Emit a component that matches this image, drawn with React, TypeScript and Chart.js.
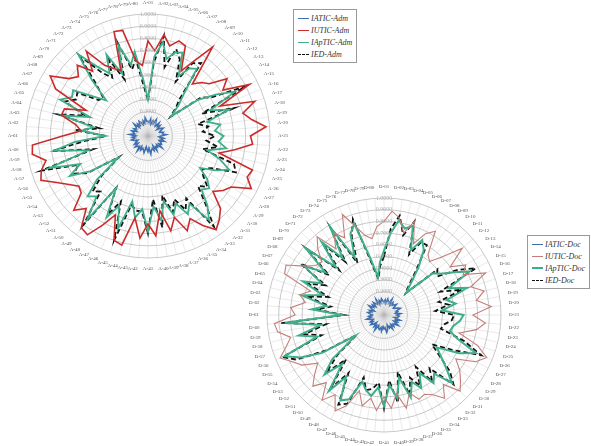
import React, { useEffect, useRef } from "react";
import { Chart, registerables } from "chart.js";

Chart.register(...registerables);

const ADM_LABELS: string[] = Array.from({ length: 80 }, (_, i) => `A-${String(i + 1).padStart(2, "0")}`);
const DOC_LABELS: string[] = Array.from({ length: 80 }, (_, i) => `D-${String(i + 1).padStart(2, "0")}`);

const IATIC_ADM = [0.12,0.11,0.14,0.10,0.13,0.11,0.15,0.12,0.10,0.14,0.11,0.13,0.09,0.12,0.14,0.11,0.10,0.13,0.12,0.15,0.11,0.09,0.13,0.11,0.14,0.10,0.12,0.13,0.11,0.15,0.10,0.12,0.11,0.14,0.09,0.13,0.11,0.12,0.15,0.10,0.13,0.11,0.09,0.14,0.12,0.11,0.13,0.10,0.15,0.11,0.12,0.14,0.10,0.13,0.11,0.09,0.12,0.14,0.11,0.13,0.10,0.15,0.11,0.12,0.14,0.10,0.13,0.11,0.12,0.15,0.10,0.13,0.11,0.14,0.12,0.10,0.13,0.11,0.15,0.12];
const IUTIC_ADM = [0.78,0.70,0.84,0.76,0.82,0.80,0.60,0.72,0.90,0.56,0.62,0.66,0.80,0.72,0.93,0.64,0.92,0.80,0.86,0.97,0.84,0.86,0.72,0.60,0.90,0.88,0.95,0.80,0.76,0.70,0.84,0.90,0.95,0.86,0.76,0.84,0.70,0.80,0.62,0.82,0.72,0.84,0.68,0.92,0.90,0.70,0.82,0.95,0.93,0.78,0.86,0.72,0.70,0.76,0.84,0.95,0.92,0.86,0.96,0.95,0.70,0.55,0.60,0.73,0.72,0.55,0.85,0.94,0.80,0.75,0.82,0.70,0.86,0.68,0.62,0.58,0.90,0.89,0.62,0.58];
const IAPTIC_ADM = [0.30,0.65,0.78,0.65,0.72,0.74,0.55,0.65,0.68,0.45,0.35,0.25,0.50,0.65,0.80,0.55,0.70,0.50,0.60,0.55,0.62,0.58,0.65,0.50,0.62,0.72,0.62,0.50,0.60,0.66,0.62,0.75,0.85,0.65,0.72,0.60,0.68,0.55,0.70,0.58,0.78,0.60,0.68,0.55,0.80,0.62,0.75,0.50,0.85,0.65,0.70,0.55,0.30,0.55,0.72,0.60,0.85,0.50,0.78,0.60,0.35,0.55,0.45,0.72,0.50,0.78,0.70,0.72,0.55,0.45,0.65,0.88,0.70,0.60,0.75,0.55,0.78,0.60,0.70,0.45];
const IED_ADM = [0.29,0.60,0.83,0.58,0.75,0.68,0.50,0.70,0.74,0.40,0.32,0.24,0.54,0.60,0.90,0.48,0.74,0.42,0.50,0.45,0.55,0.48,0.58,0.46,0.74,0.78,0.58,0.52,0.56,0.64,0.58,0.72,0.92,0.60,0.68,0.56,0.66,0.50,0.76,0.52,0.80,0.62,0.62,0.58,0.90,0.58,0.72,0.50,0.90,0.60,0.64,0.50,0.29,0.58,0.68,0.62,0.92,0.46,0.80,0.52,0.34,0.60,0.40,0.76,0.54,0.74,0.66,0.68,0.50,0.48,0.60,0.87,0.64,0.56,0.70,0.50,0.80,0.56,0.64,0.40];

const IATIC_DOC = [0.11,0.13,0.10,0.14,0.12,0.11,0.15,0.10,0.13,0.11,0.12,0.14,0.10,0.11,0.13,0.15,0.11,0.12,0.10,0.14,0.11,0.13,0.12,0.09,0.14,0.11,0.13,0.10,0.15,0.12,0.11,0.13,0.10,0.14,0.11,0.12,0.09,0.13,0.15,0.11,0.12,0.10,0.14,0.11,0.13,0.12,0.10,0.15,0.11,0.13,0.09,0.12,0.14,0.11,0.13,0.10,0.12,0.15,0.11,0.13,0.10,0.12,0.14,0.11,0.13,0.09,0.12,0.15,0.11,0.13,0.10,0.14,0.12,0.11,0.15,0.10,0.13,0.11,0.14,0.12];
const IUTIC_DOC = [0.80,0.89,0.84,0.72,0.84,0.66,0.78,0.84,0.64,0.60,0.70,0.88,0.70,0.82,0.76,0.94,0.78,0.88,0.80,0.92,0.76,0.87,0.80,0.66,0.84,0.95,0.88,0.72,0.80,0.86,0.92,0.78,0.88,0.80,0.76,0.78,0.70,0.82,0.68,0.80,0.70,0.82,0.72,0.80,0.68,0.84,0.92,0.80,0.90,0.76,0.86,0.78,0.70,0.82,0.88,0.96,0.88,0.82,0.92,0.94,0.76,0.80,0.68,0.74,0.66,0.92,0.94,0.80,0.72,0.70,0.80,0.88,0.70,0.82,0.74,0.93,0.80,0.70,0.66,0.76];
const IAPTIC_DOC = [0.55,0.70,0.82,0.76,0.80,0.60,0.72,0.65,0.50,0.35,0.27,0.55,0.60,0.70,0.82,0.60,0.75,0.55,0.62,0.50,0.68,0.65,0.60,0.58,0.66,0.85,0.72,0.53,0.60,0.70,0.82,0.66,0.72,0.58,0.70,0.62,0.74,0.55,0.72,0.60,0.78,0.62,0.70,0.66,0.60,0.78,0.82,0.62,0.80,0.55,0.72,0.58,0.30,0.62,0.80,0.92,0.60,0.75,0.55,0.85,0.36,0.62,0.50,0.72,0.55,0.75,0.60,0.80,0.62,0.88,0.58,0.82,0.60,0.88,0.55,0.75,0.82,0.50,0.33,0.45];
const IED_DOC = [0.50,0.74,0.86,0.70,0.84,0.56,0.70,0.70,0.46,0.32,0.26,0.60,0.56,0.74,0.88,0.52,0.70,0.48,0.56,0.44,0.60,0.58,0.52,0.50,0.72,0.90,0.66,0.48,0.58,0.74,0.84,0.60,0.70,0.52,0.68,0.58,0.72,0.50,0.76,0.56,0.80,0.58,0.64,0.66,0.56,0.82,0.86,0.58,0.78,0.50,0.70,0.52,0.29,0.58,0.84,0.94,0.56,0.70,0.50,0.88,0.34,0.58,0.46,0.68,0.50,0.70,0.56,0.84,0.58,0.88,0.54,0.80,0.56,0.88,0.50,0.72,0.86,0.46,0.31,0.42];

const R_TICKS_MIN = 0;
const R_TICKS_MAX = 1;
const R_TICKS_STEP = 0.1;

type Series = { label: string; data: number[]; color: string; width: number; dash?: number[] };

function RadarChart(props: { labels: string[]; series: Series[]; width: number; height: number }) {
  const ref = useRef<HTMLCanvasElement | null>(null);
  useEffect(() => {
    if (!ref.current) return;
    const chart = new Chart(ref.current, {
      type: "radar",
      data: {
        labels: props.labels,
        datasets: props.series.map((s) => ({
          label: s.label,
          data: s.data,
          borderColor: s.color,
          backgroundColor: "transparent",
          borderWidth: s.width,
          borderDash: s.dash || [],
          pointRadius: 0,
          fill: false,
          tension: 0,
        })),
      },
      options: {
        responsive: false,
        animation: false,
        plugins: { legend: { display: false }, tooltip: { enabled: false } },
        layout: { padding: 0 },
        scales: {
          r: {
            min: R_TICKS_MIN,
            max: R_TICKS_MAX,
            ticks: {
              stepSize: R_TICKS_STEP,
              showLabelBackdrop: false,
              color: "#b0b0b0",
              font: { size: 6, family: "Liberation Serif" },
              callback: (v: any) => Number(v).toFixed(4),
              z: 1,
            },
            pointLabels: {
              font: { size: 5, family: "Liberation Serif" },
              color: "#555",
              padding: 3,
            },
            grid: { circular: true, color: "#c8c8c8", lineWidth: 1 },
            angleLines: { color: "rgba(185,185,185,0.6)", lineWidth: 0.5 },
          },
        },
      },
    });
    return () => chart.destroy();
  }, []);
  return <canvas ref={ref} width={props.width} height={props.height} style={{ width: props.width, height: props.height, display: "block" }} />;
}

function Legend(props: { items: Series[] }) {
  return (
    <div style={{ border: "1px solid #999", padding: "2px 4px", background: "#fff", fontFamily: "Liberation Serif", fontStyle: "italic", fontSize: 8, color: "#333", whiteSpace: "nowrap" }}>
      {props.items.map((s) => (
        <div key={s.label} style={{ display: "flex", alignItems: "center", height: 12 }}>
          <span style={{ display: "inline-block", width: 11, borderTop: `${Math.max(1.5, s.width)}px ${s.dash ? "dashed" : "solid"} ${s.color}`, marginRight: 2 }} />
          <span>{s.label}</span>
        </div>
      ))}
    </div>
  );
}

export default function App() {
  const adm: Series[] = [
    { label: "IATIC-Adm", data: IATIC_ADM, color: "#3f6fae", width: 1.6 },
    { label: "IUTIC-Adm", data: IUTIC_ADM, color: "#cc2b2b", width: 1.6 },
    { label: "IApTIC-Adm", data: IAPTIC_ADM, color: "#3fae8a", width: 1.8 },
    { label: "IED-Adm", data: IED_ADM, color: "#111111", width: 1.8, dash: [5, 3] },
  ];
  const doc: Series[] = [
    { label: "IATIC-Doc", data: IATIC_DOC, color: "#3f6fae", width: 1.6 },
    { label: "IUTIC-Doc", data: IUTIC_DOC, color: "#c47f7a", width: 1.1 },
    { label: "IApTIC-Doc", data: IAPTIC_DOC, color: "#3fae8a", width: 2 },
    { label: "IED-Doc", data: IED_DOC, color: "#111111", width: 1.8, dash: [5, 3] },
  ];
  return (
    <div style={{ position: "fixed", left: 0, top: 0, width: 591, height: 446, background: "#fff", overflow: "hidden" }}>
      <div style={{ position: "absolute", left: 4, top: 0 }}>
        <RadarChart labels={ADM_LABELS} series={adm} width={288} height={272} />
      </div>
      <div style={{ position: "absolute", left: 293, top: 9 }}>
        <Legend items={adm} />
      </div>
      <div style={{ position: "absolute", left: 244, top: 184 }}>
        <RadarChart labels={DOC_LABELS} series={doc} width={280} height={262} />
      </div>
      <div style={{ position: "absolute", left: 527, top: 235 }}>
        <Legend items={doc} />
      </div>
    </div>
  );
}
